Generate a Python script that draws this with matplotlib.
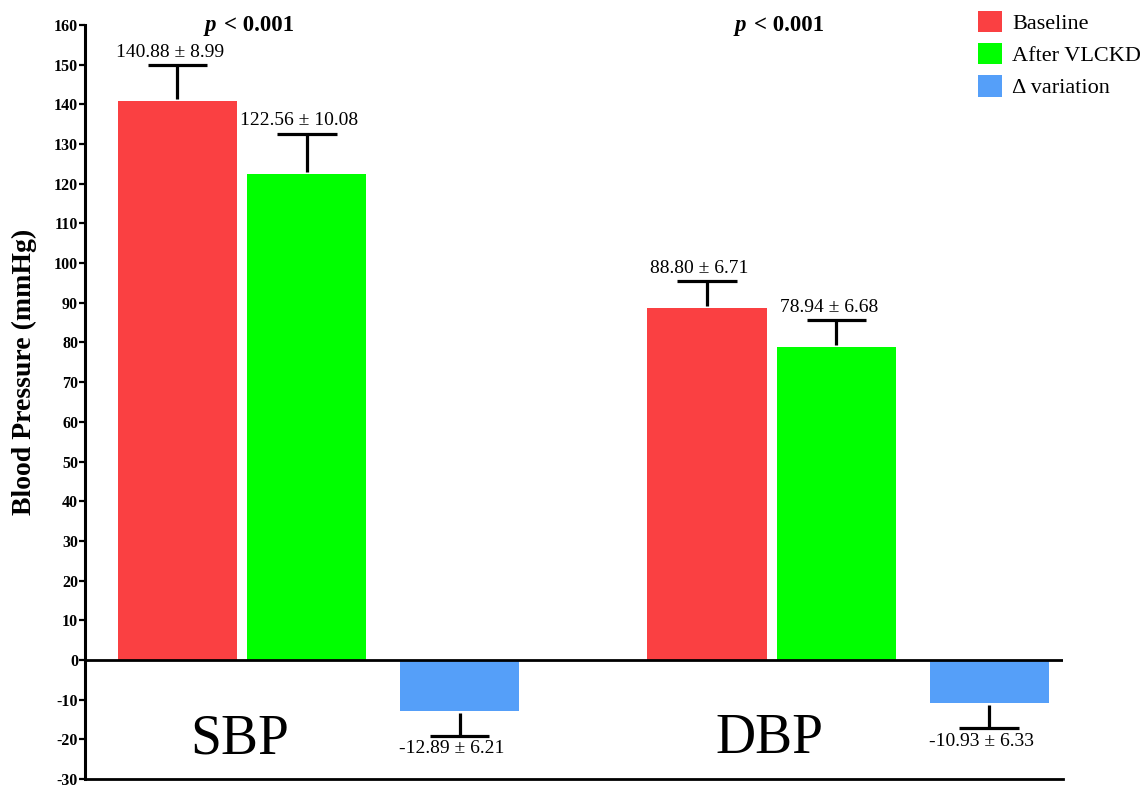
import matplotlib
matplotlib.use('Agg')
import matplotlib.pyplot as plt
import numpy as np

plt.rcParams['font.family'] = ['Liberation Serif', 'DejaVu Serif']
plt.rcParams['axes.unicode_minus'] = False

groups = ['SBP', 'DBP']
baseline_mean = [140.88, 88.80]
baseline_sd = [8.99, 6.71]
after_mean = [122.56, 78.94]
after_sd = [10.08, 6.68]
delta_mean = [-12.89, -10.93]
delta_sd = [6.21, 6.33]
p_labels = ['0.001', '0.001']
legend_labels = ['Baseline', 'After VLCKD', '\u0394 variation']
yticks = np.arange(-30, 161, 10)

colors = ['#FA4042', '#00FF00', '#559FF9']

group_x = np.arange(len(groups)) * 4.09  # group locations
offsets = [0, 1, 2.18]  # bar offsets inside a group
width = 0.92
cap = 0.46  # width of the error bar cap

fig = plt.figure(figsize=(11.46, 7.87), dpi=100)
ax = fig.add_axes([85/1146, 8/787, 978/1146, 754/787])

series = [(baseline_mean, baseline_sd), (after_mean, after_sd), (delta_mean, delta_sd)]
handles = []
for k, (means, sds) in enumerate(series):
    x = group_x + offsets[k]
    h = ax.bar(x, means, width, color=colors[k], edgecolor='none', zorder=2)
    handles.append(h)
    for xi, m, s in zip(x, means, sds):
        # one sided error bar, away from zero
        sign = 1 if m >= 0 else -1
        ypos = m + sign * s
        ax.vlines(xi, m + sign * 0.5, ypos, color='black', lw=2.3, zorder=3)
        ax.hlines(ypos, xi - cap / 2, xi + cap / 2, color='black', lw=2.3, zorder=3)
        ax.annotate('%.2f \u00b1 %.2f' % (m, s), (xi - 0.06, ypos), xytext=(0, 3 * sign),
                    textcoords='offset points', ha='center',
                    va='bottom' if sign > 0 else 'top', fontsize=14)

for g, name, p in zip(group_x, groups, p_labels):
    ax.text(g + 0.48, -20, name, ha='center', va='center', fontsize=40)
    ax.text(g + 0.30, 160, 'p', ha='right', va='center', fontsize=16.5,
            fontweight='bold', fontstyle='italic')
    ax.text(g + 0.36, 160, '< ' + p, ha='left', va='center', fontsize=16.5,
            fontweight='bold')

ax.axhline(0, color='black', lw=2, zorder=4)
ax.set_xlim(-0.714, 6.84)
ax.set_ylim(-30, 160)
ax.set_yticks(yticks)
ax.set_xticks([])
ax.tick_params(axis='y', length=4, width=1.6, pad=1, labelsize=11.5)
for lab in ax.get_yticklabels():
    lab.set_fontweight('bold')
ax.spines['top'].set_visible(False)
ax.spines['right'].set_visible(False)
ax.spines['left'].set_linewidth(2.2)
ax.spines['bottom'].set_linewidth(2)

ax.set_ylabel('Blood Pressure (mmHg)', fontsize=20, fontweight='bold')
ax.yaxis.set_label_coords(-0.049, 0.54)

ax.legend(handles, legend_labels, loc='upper left', bbox_to_anchor=(978/1146, 1 - 11/787),
          bbox_transform=fig.transFigure, frameon=False, fontsize=16, borderpad=0,
          borderaxespad=0, handlelength=1.1, handleheight=1.1, handletextpad=0.45,
          labelspacing=0.4)

plt.savefig('out.png', dpi=100)
